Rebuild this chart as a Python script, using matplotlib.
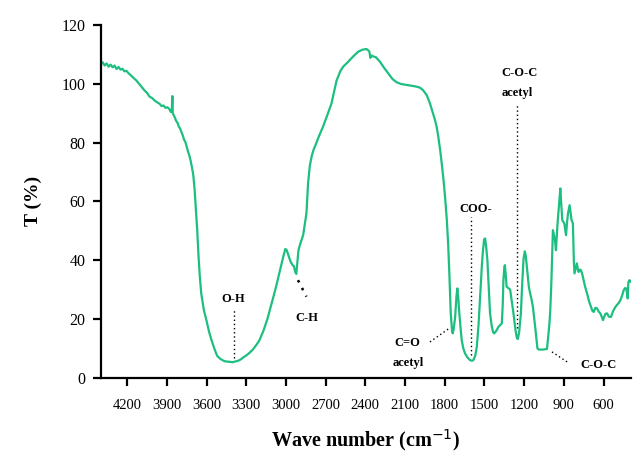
import matplotlib
matplotlib.use("Agg")
import matplotlib.pyplot as plt

# FTIR spectrum
wavenumber = [4400, 4385, 4370, 4355, 4340, 4325, 4310, 4295, 4280, 4265, 4250, 4235, 4220, 4205,
              4190, 4170, 4150, 4130, 4110, 4090, 4070, 4050, 4030, 4010, 3990, 3970, 3955, 3940,
              3925, 3910, 3895, 3880, 3870, 3862, 3858, 3855, 3848, 3840, 3830, 3820, 3810, 3800,
              3790, 3780, 3770, 3760, 3750, 3740, 3730, 3720, 3710, 3700, 3690, 3680, 3670, 3660,
              3650, 3640, 3620, 3600, 3580, 3560, 3540, 3520, 3500, 3480, 3460, 3440, 3420, 3400,
              3380, 3360, 3340, 3320, 3300, 3280, 3250, 3220, 3200, 3170, 3140, 3110, 3080, 3050,
              3020, 3005, 2995, 2980, 2965, 2950, 2940, 2930, 2922, 2912, 2905, 2890, 2870, 2855,
              2845, 2833, 2820, 2805, 2790, 2775, 2750, 2720, 2690, 2656, 2635, 2618, 2590, 2568,
              2540, 2517, 2485, 2454, 2420, 2391, 2370, 2362, 2352, 2341, 2320, 2290, 2260, 2227,
              2195, 2164, 2130, 2088, 2050, 2012, 1985, 1962, 1935, 1912, 1890, 1874, 1860, 1849,
              1835, 1823, 1810, 1798, 1785, 1775, 1765, 1755, 1745, 1740, 1733, 1722, 1712, 1705,
              1698, 1690, 1680, 1672, 1660, 1647, 1630, 1609, 1595, 1584, 1570, 1558, 1545, 1533,
              1520, 1513, 1503, 1495, 1487, 1478, 1468, 1458, 1445, 1435, 1427, 1410, 1395, 1380,
              1369, 1362, 1357, 1350, 1346, 1340, 1333, 1320, 1306, 1295, 1281, 1265, 1255, 1248,
              1238, 1225, 1215, 1205, 1195, 1188, 1175, 1165, 1155, 1145, 1134, 1117, 1100, 1090,
              1060, 1028, 1010, 1003, 995, 983, 976, 968, 960, 948, 938, 927, 920, 912, 897, 884,
              876, 869, 857, 842, 832, 825, 820, 812, 802, 795, 789, 780, 771, 760, 751, 740, 725,
              710, 695, 685, 675, 662, 650, 637, 625, 612, 605, 595, 585, 574, 560, 544, 530, 511,
              495, 485, 473, 460, 448, 438, 428, 418, 413, 405, 397]
transmittance = [106.5, 107.3, 106.2, 106.9, 105.8, 106.5, 105.6, 106.2, 105.0, 105.7, 104.8, 105.1, 104.2, 104.4,
                 103.6, 102.8, 101.9, 101.1, 100.0, 98.9, 97.8, 96.9, 95.6, 95.1, 94.2, 93.6, 93.2, 92.4,
                 92.6, 91.8, 92.0, 91.3, 90.4, 91.5, 95.8, 90.0, 89.3, 88.6, 87.4, 86.8, 85.5, 84.8,
                 83.6, 82.5, 81.0, 80.2, 78.6, 77.0, 75.6, 73.8, 71.5, 69.0, 64.0, 57.0, 50.0, 41.0,
                 34.0, 28.7, 23.0, 19.4, 15.5, 12.5, 9.8, 7.5, 6.6, 6.0, 5.6, 5.5, 5.4, 5.3,
                 5.6, 5.8, 6.3, 7.0, 7.6, 8.3, 9.6, 11.4, 12.8, 16.0, 20.0, 25.0, 30.0, 35.6,
                 41.2, 43.8, 43.5, 41.5, 39.5, 38.3, 38.0, 36.0, 35.3, 40.0, 43.5, 45.8, 48.5, 53.0,
                 56.0, 66.0, 72.0, 75.5, 77.7, 79.3, 82.2, 85.4, 89.0, 93.3, 97.5, 101.0, 104.2, 105.8,
                 107.0, 108.1, 109.6, 110.9, 111.6, 111.8, 111.0, 108.8, 109.6, 109.3, 109.0, 107.5, 105.5, 103.5,
                 101.6, 100.5, 99.9, 99.6, 99.3, 99.0, 98.6, 97.7, 96.0, 93.3, 90.0, 87.7, 85.0, 82.0,
                 77.5, 72.9, 67.5, 61.6, 54.0, 46.0, 35.0, 22.0, 16.0, 15.1, 16.5, 20.5, 27.5, 30.4,
                 27.0, 21.9, 16.5, 12.8, 10.0, 8.3, 7.0, 6.0, 5.8, 6.0, 7.5, 10.5, 18.0, 27.6,
                 38.0, 42.5, 47.0, 47.4, 44.5, 40.0, 31.0, 21.9, 17.5, 15.5, 15.1, 16.0, 17.3, 18.0,
                 18.5, 25.0, 33.2, 37.5, 38.3, 35.5, 31.0, 30.5, 30.0, 26.5, 21.9, 16.0, 13.5, 13.2,
                 15.5, 21.9, 32.0, 40.5, 43.0, 41.5, 35.5, 31.0, 28.7, 26.8, 24.1, 17.3, 10.0, 9.6,
                 9.6, 9.8, 18.0, 23.0, 32.0, 50.2, 48.8, 47.0, 43.4, 52.5, 58.0, 64.4, 59.0, 53.6, 52.5, 48.5,
                 53.0, 55.9, 58.7, 53.6, 52.5, 40.0, 35.5, 37.0, 38.9, 37.0, 36.0, 36.8, 36.6, 35.0, 33.2, 31.0, 28.7,
                 26.0, 24.1, 22.8, 22.4, 23.8, 23.6, 22.5, 21.9, 20.5, 19.6, 20.8, 21.8, 21.9, 20.8, 20.7, 22.5, 24.1,
                 25.0, 25.5, 26.4, 28.0, 29.8, 30.5, 30.4, 27.0, 32.5, 33.2, 32.7]

x_ticks = [4200, 3900, 3600, 3300, 3000, 2700, 2400, 2100, 1800, 1500, 1200, 900, 600]
y_ticks = [0, 20, 40, 60, 80, 100, 120]

serif = ["Liberation Serif", "DejaVu Serif"]
plt.rcParams["font.family"] = serif

fig = plt.figure(figsize=(6.41, 4.53), dpi=100)
ax = fig.add_axes([0.157, 0.166, 0.827, 0.779])

ax.plot(wavenumber, transmittance, color="#1dbf80", linewidth=1.6)

ax.set_xlim(4400, 395)
ax.set_ylim(0, 120)
ax.set_xticks(x_ticks)
ax.set_yticks(y_ticks)
for side in ["top", "right"]:
    ax.spines[side].set_visible(False)
for side in ["left", "bottom"]:
    ax.spines[side].set_linewidth(1.6)
ax.tick_params(axis="both", direction="out", length=6, width=1.6)
ax.tick_params(axis="x", pad=9, labelsize=10.5)
ax.tick_params(axis="y", pad=5, labelsize=11.5)

ax.set_xlabel("Wave number (cm$^{-1}$)", fontsize=14.5, fontweight="bold", labelpad=11)
ax.set_ylabel("T (%)", fontsize=14, fontweight="bold", labelpad=14)

# peak annotations
lab = dict(fontsize=9, fontweight="bold", ha="center", va="center")
dot = dict(color="black", linestyle=(0, (1, 2)), linewidth=1)

ax.plot([3395, 3395], [6.7, 23.7], **dot)
ax.text(3395, 26.7, "O-H", **lab)

ax.plot([2909, 2845], [33.2, 27.6], color="black", linestyle=(0, (1, 2.5)), linewidth=1.8)
ax.text(2843, 20.3, "C-H", **lab)

ax.plot([1912, 1761], [12.2, 17.0], **dot)
ax.text(2085, 11.7, "C=O", **lab)
ax.text(2077, 4.9, "acetyl", **lab)

ax.plot([1601, 1601], [7.7, 54.8], **dot)
ax.text(1564, 57.3, "COO-", **lab)

ax.plot([1255, 1255], [17.0, 93.1], **dot)
ax.text(1238, 103.7, "C-O-C", **lab)
ax.text(1250, 96.9, "acetyl", **lab)

ax.plot([990, 865], [8.8, 5.1], **dot)
ax.text(640, 4.3, "C-O-C", **lab)

fig.savefig("out.png", dpi=100)
